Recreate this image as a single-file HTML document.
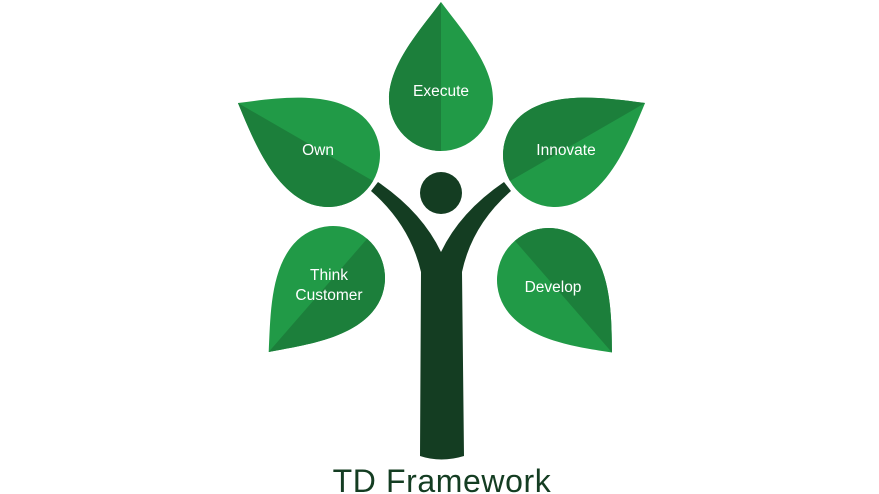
<!DOCTYPE html>
<html><head><meta charset="utf-8"><style>
html,body{margin:0;padding:0;background:#fff;width:879px;height:494px;overflow:hidden}
svg{display:block}
text{font-family:"Liberation Sans",sans-serif}
</style></head><body>
<svg width="879" height="494" viewBox="0 0 879 494" xmlns="http://www.w3.org/2000/svg">
<defs>
<clipPath id="half"><rect x="-200" y="-200" width="200" height="400"/></clipPath>
</defs>
<g transform="translate(441,99)">
<path d="M0,-97 C20,-70 52,-35 52,0 A52,52 0 0 1 -52,0 C-52,-35 -20,-70 0,-97 Z" fill="#219a47"/>
<path d="M0,-97 C20,-70 52,-35 52,0 A52,52 0 0 1 -52,0 C-52,-35 -20,-70 0,-97 Z" fill="#1c7f3b" clip-path="url(#half)"/>
</g>
<g transform="translate(328,155) rotate(-60)">
<path d="M0,-104 C22,-75 52,-38 52,0 A52,52 0 0 1 -52,0 C-52,-38 -22,-75 0,-104 Z" fill="#219a47"/>
<path d="M0,-104 C22,-75 52,-38 52,0 A52,52 0 0 1 -52,0 C-52,-38 -22,-75 0,-104 Z" fill="#1c7f3b" clip-path="url(#half)"/>
</g>
<g transform="translate(555,155) rotate(60)">
<path d="M0,-104 C22,-75 52,-38 52,0 A52,52 0 0 1 -52,0 C-52,-38 -22,-75 0,-104 Z" fill="#219a47"/>
<path d="M0,-104 C22,-75 52,-38 52,0 A52,52 0 0 1 -52,0 C-52,-38 -22,-75 0,-104 Z" fill="#1c7f3b" clip-path="url(#half)"/>
</g>
<g transform="translate(333,278) rotate(-139)">
<path d="M0,-98 C22,-70 52,-36 52,0 A52,52 0 0 1 -52,0 C-52,-36 -22,-70 0,-98 Z" fill="#219a47"/>
<path d="M0,-98 C22,-70 52,-36 52,0 A52,52 0 0 1 -52,0 C-52,-36 -22,-70 0,-98 Z" fill="#1c7f3b" clip-path="url(#half)"/>
</g>
<g transform="translate(549,280) rotate(139)">
<path d="M0,-96 C22,-70 52,-36 52,0 A52,52 0 0 1 -52,0 C-52,-36 -22,-70 0,-96 Z" fill="#219a47"/>
<path d="M0,-96 C22,-70 52,-36 52,0 A52,52 0 0 1 -52,0 C-52,-36 -22,-70 0,-96 Z" fill="#1c7f3b" clip-path="url(#half)"/>
</g>
<circle cx="441" cy="193" r="21" fill="#143d22"/>
<path d="M371,191 L378,182 Q422,212 441,252 Q460,212 504,182 L511,191 Q472,225 462,272 L464,456 Q441,463 420,456 L421,272 Q410,225 371,191 Z" fill="#143d22"/>
<g fill="#fff" font-size="15.5" text-anchor="middle">
<text x="441" y="96">Execute</text>
<text x="318" y="155">Own</text>
<text x="566" y="155">Innovate</text>
<text x="329" y="280">Think</text>
<text x="329" y="300">Customer</text>
<text x="553" y="292">Develop</text>
</g>
<text x="442" y="492" font-size="32" letter-spacing="0.6" fill="#143d22" text-anchor="middle">TD Framework</text>
</svg>
</body></html>
